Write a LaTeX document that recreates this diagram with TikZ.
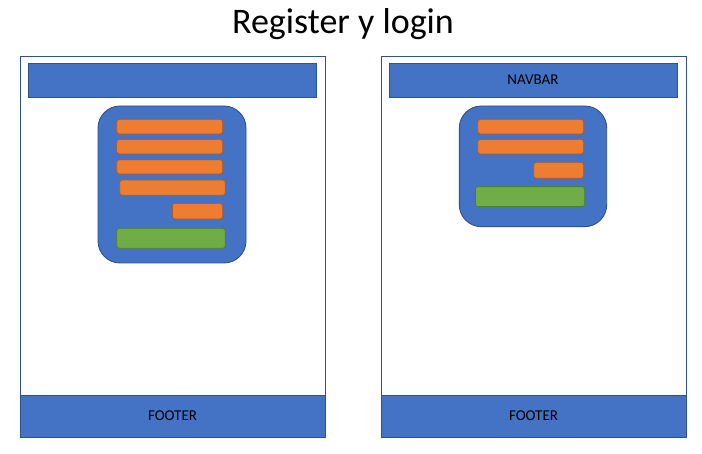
\documentclass[tikz,border=0pt]{standalone}
\usepackage{fontspec}
\setmainfont{Carlito}
\usetikzlibrary{positioning}

\definecolor{boxblue}{HTML}{4472C4}
\definecolor{lineblue}{HTML}{2F528F}
\definecolor{fieldorange}{HTML}{ED7D31}
\definecolor{lineorange}{HTML}{AE5A21}
\definecolor{btngreen}{HTML}{70AD47}
\definecolor{linegreen}{HTML}{507E32}

\tikzset{
    frame/.style={draw=lineblue, line width=0.9pt, fill=white},
    bar/.style={draw=lineblue, line width=0.9pt, fill=boxblue},
    card/.style={draw=lineblue, line width=0.9pt, fill=boxblue, rounded corners=22pt},
    field/.style={draw=lineorange, line width=0.9pt, fill=fieldorange, rounded corners=2.5pt},
    btn/.style={draw=linegreen, line width=0.9pt, fill=btngreen, rounded corners=2.5pt},
    label/.style={font=\fontsize{15}{18}\selectfont, text=black}
}

\begin{document}
\begin{tikzpicture}[x=1pt, y=-1pt]
    \useasboundingbox (0,0) rectangle (702,454);
    \node[font=\fontsize{36}{42}\selectfont, anchor=base] (title) at (343,34) {Register y login};

    % Register
    \draw[frame] (20,56) rectangle (325,437);
    \draw[bar] (28,63) rectangle (316,97);
    \draw[bar] (20,395) rectangle (325,437);
    \node[label] (footL) at (172.5,416) {FOOTER};
    \draw[card] (98,106) rectangle (246,263);
    \draw[field] (116.7,119.3) rectangle (222.7,134);
    \draw[field] (116.7,139.3) rectangle (222.7,154);
    \draw[field] (116.7,159.7) rectangle (222.7,174);
    \draw[field] (119.7,180) rectangle (225.3,195.3);
    \draw[field] (172.3,203.3) rectangle (222.7,219);
    \draw[btn] (116.7,228.3) rectangle (225.3,248.3);

    % Login
    \begin{scope}[xshift=361pt]
        \draw[frame] (20,56) rectangle (325,437);
        \draw[bar] (28,63) rectangle (316,97);
        \node[label] (nav) at (172,80) {NAVBAR};
        \draw[bar] (20,395) rectangle (325,437);
        \node[label] (footR) at (172.5,416) {FOOTER};
    \end{scope}
    \draw[card] (459.3,106) rectangle (606.7,226.7);
    \draw[field] (477.7,119.3) rectangle (583.7,134);
    \draw[field] (477.7,139.3) rectangle (583.7,154);
    \draw[field] (533.7,162.3) rectangle (583.7,178.3);
    \draw[btn] (475.3,186.7) rectangle (584.7,206.7);
\end{tikzpicture}
\end{document}
